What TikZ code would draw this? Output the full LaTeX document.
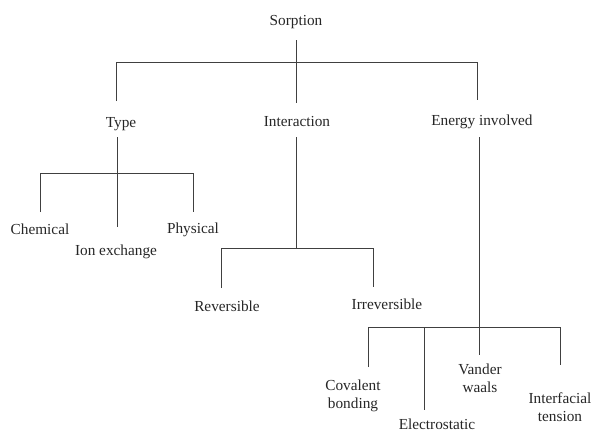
\documentclass[tikz,border=0pt]{standalone}
\usepackage{fontspec}
\setmainfont{Liberation Serif}
\tikzset{%
  lbl/.style={font=\fontsize{15.3}{18}\selectfont,text=black!85,align=center,inner sep=0pt,anchor=base},
  branch/.style={draw=#1,line width=1pt},
  branch/.default=black!75
}
\begin{document}
\begin{tikzpicture}[x=1pt,y=-1pt]
  \useasboundingbox (0,0) rectangle (595,432);
  %% Labels
  \node[lbl] (sorp) at (296,25) {Sorption};
  \node[lbl] (type) at (121,127) {Type};
  \node[lbl] (inter) at (297,126) {Interaction};
  \node[lbl] (energy) at (482,125) {Energy involved};
  \node[lbl] (chem) at (40,234) {Chemical};
  \node[lbl] (ionx) at (116,255) {Ion exchange};
  \node[lbl] (phys) at (193,233) {Physical};
  \node[lbl] (rev) at (227,311) {Reversible};
  \node[lbl] (irrev) at (387,309) {Irreversible};
  \node[lbl] (cov) at (353,408) {Covalent\\bonding};
  \node[lbl] (elec) at (437,429) {Electrostatic};
  \node[lbl] (vdw) at (480,392) {Vander\\waals};
  \node[lbl] (intf) at (560,421) {Interfacial\\tension};
  %% Sorption
  \coordinate (s0) at (296,40);
  \coordinate (s1) at (296,103);
  \coordinate (s2) at (116,62);
  \coordinate (s3) at (477,62);
  \coordinate (s4) at (116,101);
  \coordinate (s5) at (477,100);
  \draw[branch] (s0) -- (s1);
  \draw[branch] (s4) -- (s2) -- (s3) -- (s5);
  %% Type
  \coordinate (t0) at (117,137);
  \coordinate (t1) at (117,227);
  \coordinate (t2) at (40,173);
  \coordinate (t3) at (193,173);
  \coordinate (t4) at (40,212);
  \coordinate (t5) at (193,212);
  \draw[branch] (t0) -- (t1);
  \draw[branch] (t4) -- (t2) -- (t3) -- (t5);
  %% Interaction
  \coordinate (i0) at (296,137);
  \coordinate (i1) at (296,248);
  \coordinate (i2) at (221,248);
  \coordinate (i3) at (373,248);
  \coordinate (i4) at (221,288);
  \coordinate (i5) at (373,287);
  \draw[branch] (i0) -- (i1);
  \draw[branch] (i4) -- (i2) -- (i3) -- (i5);
  %% Energy involved
  \coordinate (e0) at (479,137);
  \coordinate (e1) at (479,355);
  \coordinate (e2) at (368,327);
  \coordinate (e3) at (560,327);
  \coordinate (e4) at (368,367);
  \coordinate (e5) at (560,365);
  \coordinate (e6) at (424,327);
  \coordinate (e7) at (424,410);
  \draw[branch] (e0) -- (e1);
  \draw[branch] (e4) -- (e2) -- (e3) -- (e5);
  \draw[branch] (e6) -- (e7);
  %%
\end{tikzpicture}
\end{document}
